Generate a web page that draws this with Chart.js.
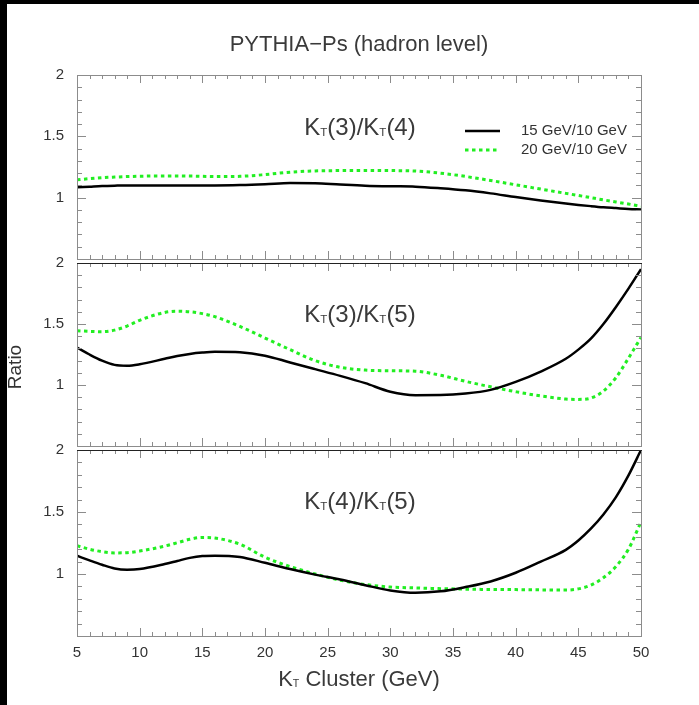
<!DOCTYPE html>
<html>
<head>
<meta charset="utf-8">
<script src="https://cdn.jsdelivr.net/npm/chart.js@4.4.0/dist/chart.umd.min.js"></script>
<style>
  body { margin: 0; background: #000; }
  #wrap { position: relative; width: 699px; height: 705px; overflow: hidden; background: #000; }
  #paper { position: absolute; left: 7px; top: 4px; right: 0; bottom: 0; background: #fff; }
  canvas { position: absolute; left: 0; }
</style>
</head>
<body>
<div id="wrap">
  <div id="paper"></div>
  <canvas id="c1" width="699" height="281" style="top:0px"></canvas>
  <canvas id="c2" width="699" height="227" style="top:241px"></canvas>
  <canvas id="c3" width="699" height="278" style="top:428px"></canvas>
</div>
<script>
// KT cluster values (GeV) shared by every curve
var kt = [5, 6, 7, 8, 9, 10, 12, 13, 14, 15, 16, 18, 20, 22, 24, 26, 28, 30, 32, 34, 36, 38, 40, 42, 44, 45, 46, 47, 48, 49, 50];

// KT(3)/KT(4)
var r34_15 = [1.085, 1.09, 1.095, 1.098, 1.10, 1.10, 1.10, 1.10, 1.10, 1.10, 1.10, 1.103, 1.11, 1.12, 1.117, 1.107, 1.098, 1.093, 1.09, 1.077, 1.06, 1.035, 1.005, 0.977, 0.952, 0.941, 0.931, 0.922, 0.915, 0.908, 0.903];
var r34_20 = [1.145, 1.155, 1.163, 1.168, 1.172, 1.175, 1.177, 1.177, 1.176, 1.174, 1.172, 1.174, 1.188, 1.208, 1.218, 1.221, 1.222, 1.221, 1.217, 1.2, 1.173, 1.14, 1.105, 1.07, 1.035, 1.018, 1.0, 0.982, 0.965, 0.948, 0.93];

// KT(3)/KT(5)
var r35_15 = [1.307, 1.25, 1.2, 1.165, 1.158, 1.17, 1.215, 1.238, 1.255, 1.266, 1.272, 1.268, 1.24, 1.185, 1.13, 1.075, 1.015, 0.945, 0.917, 0.918, 0.93, 0.96, 1.025, 1.11, 1.215, 1.29, 1.38, 1.5, 1.64, 1.79, 1.95];
var r35_20 = [1.445, 1.44, 1.437, 1.45, 1.483, 1.53, 1.595, 1.605, 1.6, 1.585, 1.56, 1.48, 1.385, 1.29, 1.2, 1.145, 1.122, 1.117, 1.113, 1.08, 1.03, 0.985, 0.945, 0.91, 0.885, 0.882, 0.893, 0.95, 1.06, 1.22, 1.39];

// KT(4)/KT(5)
var r45_15 = [1.147, 1.11, 1.075, 1.045, 1.035, 1.04, 1.08, 1.105, 1.13, 1.145, 1.148, 1.137, 1.09, 1.04, 0.995, 0.955, 0.91, 0.867, 0.848, 0.86, 0.895, 0.94, 1.01, 1.1, 1.195, 1.27, 1.365, 1.48, 1.62, 1.795, 2.0];
var r45_20 = [1.228, 1.2, 1.18, 1.17, 1.172, 1.185, 1.225, 1.252, 1.28, 1.295, 1.29, 1.24, 1.135, 1.06, 1.0, 0.95, 0.915, 0.895, 0.888, 0.882, 0.878, 0.875, 0.874, 0.872, 0.87, 0.88, 0.91, 0.97, 1.06, 1.2, 1.42];

var seriesNames = ['15 GeV/10 GeV', '20 GeV/10 GeV'];
var yTicks = [1, 1.5, 2];

var FONT = '"Liberation Sans", Arial, sans-serif';
var TEXT = '#333';
var GREEN = '#22ee22';

function pts(arr) {
    return kt.map(function (k, i) { return { x: k, y: arr[i] }; });
}

// text with "T" subscripts: parts = [[text, isSub], ...]
function subText(ctx, parts, cx, cy, size) {
    var w = 0, i;
    for (i = 0; i < parts.length; i++) {
        ctx.font = (parts[i][1] ? size * 0.48 : size) + 'px ' + FONT;
        w += ctx.measureText(parts[i][0]).width;
    }
    var x = cx - w / 2;
    ctx.textAlign = 'left';
    ctx.textBaseline = 'middle';
    for (i = 0; i < parts.length; i++) {
        ctx.font = (parts[i][1] ? size * 0.48 : size) + 'px ' + FONT;
        ctx.fillText(parts[i][0], x, cy + (parts[i][1] ? size * 0.2 : 0));
        x += ctx.measureText(parts[i][0]).width;
    }
}

var frameTicks = {
    id: 'frameTicks',
    afterDatasetsDraw: function (chart, args, opts) {
        var ctx = chart.ctx, a = chart.chartArea;
        var xs = chart.scales.x, ys = chart.scales.y;
        ctx.save();
        ctx.strokeStyle = '#8c8c8c';
        ctx.lineWidth = 1;
        ctx.beginPath();
        for (var v = 5; v <= 50; v++) {
            var px = Math.round(xs.getPixelForValue(v)) + 0.5;
            var len = v % 5 === 0 ? 8 : 4;
            ctx.moveTo(px, a.top); ctx.lineTo(px, a.top + len);
            ctx.moveTo(px, a.bottom); ctx.lineTo(px, a.bottom - len);
        }
        for (var i = 5; i <= 20; i++) {
            var py = Math.round(ys.getPixelForValue(i / 10)) + 0.5;
            var l2 = i % 5 === 0 ? 9 : 5;
            ctx.moveTo(a.left, py); ctx.lineTo(a.left + l2, py);
            ctx.moveTo(a.right, py); ctx.lineTo(a.right - l2, py);
        }
        ctx.stroke();
        ctx.strokeRect(Math.round(a.left) + 0.5, Math.round(a.top) + 0.5, Math.round(a.right - a.left), Math.round(a.bottom - a.top));
        if (opts.darkTop) {
            ctx.strokeStyle = '#222';
            ctx.beginPath();
            ctx.moveTo(a.left, Math.round(a.top) + 0.5);
            ctx.lineTo(a.right + 1, Math.round(a.top) + 0.5);
            ctx.stroke();
        }
        ctx.fillStyle = '#3a3a3a';
        var mid = (a.left + a.right) / 2;
        subText(ctx, opts.label, mid + 1, a.top + opts.labelDy, 24);

        if (opts.title) {
            ctx.font = '22px ' + FONT;
            ctx.textAlign = 'center';
            ctx.textBaseline = 'middle';
            ctx.fillText(opts.title, mid, 45);
        }
        if (opts.legend) {
            ctx.lineWidth = 2.5;
            ctx.strokeStyle = '#000';
            ctx.beginPath(); ctx.moveTo(465, a.top + 56); ctx.lineTo(500, a.top + 56); ctx.stroke();
            ctx.strokeStyle = GREEN;
            ctx.lineWidth = 3;
            ctx.setLineDash([3.5, 3.5]);
            ctx.beginPath(); ctx.moveTo(465, a.top + 75); ctx.lineTo(500, a.top + 75); ctx.stroke();
            ctx.setLineDash([]);
            ctx.fillStyle = TEXT;
            ctx.font = '15px ' + FONT;
            ctx.textAlign = 'left';
            ctx.textBaseline = 'middle';
            ctx.fillText(seriesNames[0], 521, a.top + 56);
            ctx.fillText(seriesNames[1], 521, a.top + 75);
        }
        if (opts.yTitle) {
            ctx.save();
            ctx.fillStyle = TEXT;
            ctx.translate(16, a.top + 104);
            ctx.rotate(-Math.PI / 2);
            ctx.font = '19px ' + FONT;
            ctx.textAlign = 'center';
            ctx.textBaseline = 'middle';
            ctx.fillText(opts.yTitle, 0, 0);
            ctx.restore();
        }
        if (opts.xTitle) {
            subText(ctx, opts.xTitle, mid, a.bottom + 44, 22);
        }
        ctx.restore();
    }
};

function makePanel(id, s15, s20, o) {
    var ctx = document.getElementById(id).getContext('2d');
    return new Chart(ctx, {
        type: 'line',
        data: {
            datasets: [{
                label: seriesNames[0],
                data: pts(s15),
                borderColor: '#000',
                borderWidth: 2.5,
                pointRadius: 0,
                cubicInterpolationMode: 'monotone',
                fill: false
            },
            {
                label: seriesNames[1],
                data: pts(s20),
                borderColor: GREEN,
                borderWidth: 3,
                borderDash: [3.5, 3.5],
                pointRadius: 0,
                cubicInterpolationMode: 'monotone',
                fill: false
            }]
        },
        plugins: [frameTicks],
        options: {
            responsive: false,
            animation: false,
            layout: { padding: { top: o.padTop, bottom: o.padBottom, left: 0, right: 58 } },
            scales: {
                x: {
                    type: 'linear',
                    min: 5,
                    max: 50,
                    display: o.showX,
                    grid: { display: false, drawTicks: false },
                    border: { display: false },
                    ticks: {
                        stepSize: 5,
                        padding: 8,
                        color: TEXT,
                        font: { family: FONT, size: 15 },
                        maxRotation: 0
                    },
                    afterFit: function (scale) { scale.height = o.showX ? 70 : 0; }
                },
                y: {
                    min: 0.5,
                    max: 2,
                    grid: { display: false, drawTicks: false },
                    border: { display: false },
                    ticks: {
                        stepSize: 0.5,
                        padding: 13,
                        color: TEXT,
                        font: { family: FONT, size: 15 },
                        callback: function (v) { return yTicks.indexOf(v) >= 0 ? String(v) : ''; }
                    },
                    afterFit: function (scale) { scale.width = 77; }
                }
            },
            plugins: {
                legend: { display: false },
                tooltip: { enabled: false },
                frameTicks: o.extra
            }
        }
    });
}

var chart1 = makePanel('c1', r34_15, r34_20, {
    padTop: 75, padBottom: 20, showX: false,
    extra: {
        label: [['K', 0], ['T', 1], ['(3)/K', 0], ['T', 1], ['(4)', 0]],
        labelDy: 53,
        title: 'PYTHIA\u2212Ps (hadron level)',
        legend: true
    }
});

var chart2 = makePanel('c2', r35_15, r35_20, {
    padTop: 20, padBottom: 20, showX: false,
    extra: {
        label: [['K', 0], ['T', 1], ['(3)/K', 0], ['T', 1], ['(5)', 0]],
        labelDy: 52,
        darkTop: true,
        yTitle: 'Ratio'
    }
});

var chart3 = makePanel('c3', r45_15, r45_20, {
    padTop: 20, padBottom: 0, showX: true,
    extra: {
        label: [['K', 0], ['T', 1], ['(4)/K', 0], ['T', 1], ['(5)', 0]],
        labelDy: 52,
        darkTop: true,
        xTitle: [['K', 0], ['T', 1], [' Cluster (GeV)', 0]]
    }
});
</script>
</body>
</html>
